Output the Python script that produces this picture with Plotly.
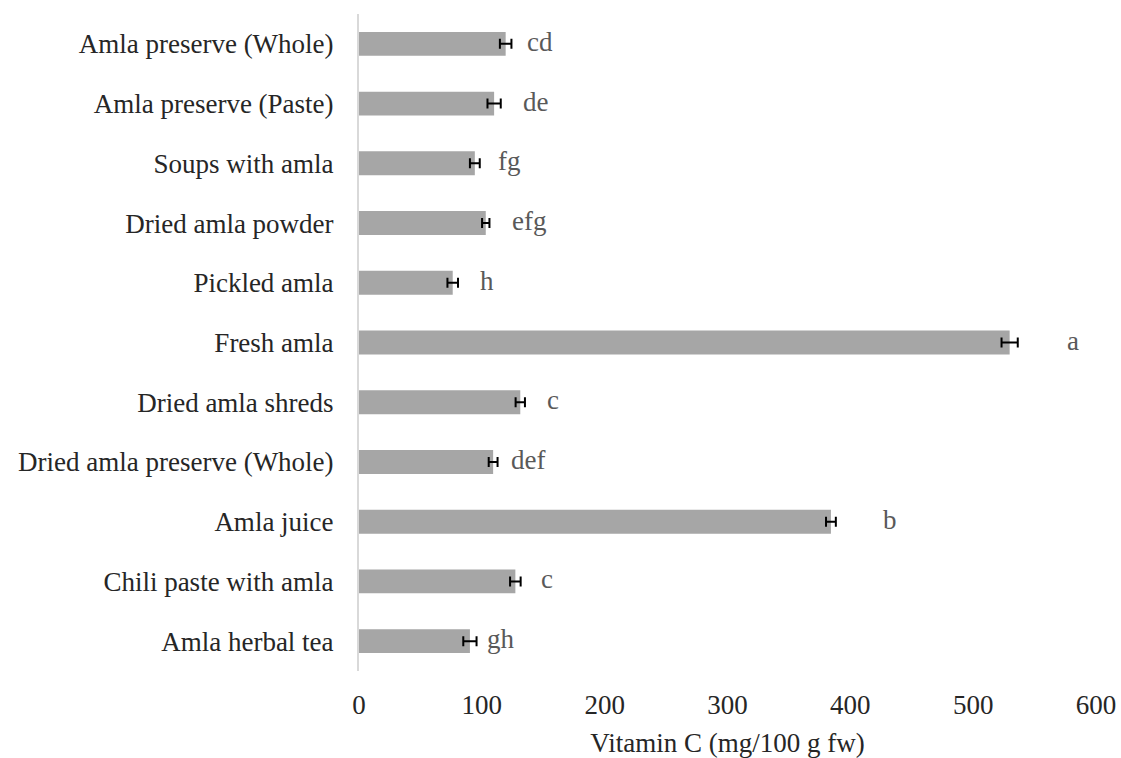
import plotly.graph_objects as go

# Vitamin C content of amla products (mg/100 g fresh weight)
products = [
    "Amla herbal tea",
    "Chili paste with amla",
    "Amla juice",
    "Dried amla preserve (Whole)",
    "Dried amla shreds",
    "Fresh amla",
    "Pickled amla",
    "Dried amla powder",
    "Soups with amla",
    "Amla preserve (Paste)",
    "Amla preserve (Whole)",
]
vitamin_c = [90.3, 127.3, 384.2, 109.2, 131.3, 529.7, 76.3, 103.2, 94.3, 110.0, 119.4]
std_dev = [5.4, 4.3, 4.0, 3.6, 3.8, 6.6, 4.3, 3.0, 4.0, 5.4, 4.7]
letters = ["gh", "c", "b", "def", "c", "a", "h", "efg", "fg", "de", "cd"]

# pixel gap between the end of each error bar and its significance letter
letter_gap = [8, 18, 45, 11, 20, 47, 20, 21, 16, 20, 14]

serif = "Liberation Serif, Times New Roman, serif"
letter_grey = "#595959"
axis_text = "#262626"
font_px = 27

fig = go.Figure(
    go.Bar(
        y=products,
        x=vitamin_c,
        orientation="h",
        marker=dict(color="#a6a6a6", line=dict(width=0)),
        width=0.4,
        error_x=dict(
            type="data",
            array=std_dev,
            color="black",
            thickness=2,
            width=5,
        ),
    )
)

for name, val, sd, lab, gap in zip(products, vitamin_c, std_dev, letters, letter_gap):
    fig.add_annotation(
        x=val + sd,
        y=name,
        text=lab,
        showarrow=False,
        xanchor="left",
        xshift=gap,
        yshift=2,
        font=dict(family=serif, size=font_px, color=letter_grey),
    )

fig.update_layout(
    width=1121,
    height=758,
    margin=dict(l=359, r=25, t=14, b=87),
    paper_bgcolor="white",
    plot_bgcolor="white",
    showlegend=False,
    font=dict(family=serif, size=font_px, color=axis_text),
    bargap=0.6,
)

fig.update_xaxes(
    range=[0, 600],
    dtick=100,
    automargin=False,
    showgrid=False,
    zeroline=False,
    showline=False,
    ticks="outside",
    ticklen=10,
    tickcolor="rgba(0,0,0,0)",
    tickfont=dict(family=serif, size=font_px, color=axis_text),
    title=dict(
        text="Vitamin C (mg/100 g fw)",
        font=dict(family=serif, size=font_px, color=axis_text),
        standoff=16,
    ),
)

fig.update_yaxes(
    categoryorder="array",
    categoryarray=products,
    automargin=False,
    showgrid=False,
    zeroline=False,
    showline=True,
    linecolor="#d9d9d9",
    linewidth=2,
    ticks="outside",
    ticklen=18,
    tickcolor="rgba(0,0,0,0)",
    tickfont=dict(family=serif, size=font_px, color=axis_text),
)

fig.write_html("out.html")
